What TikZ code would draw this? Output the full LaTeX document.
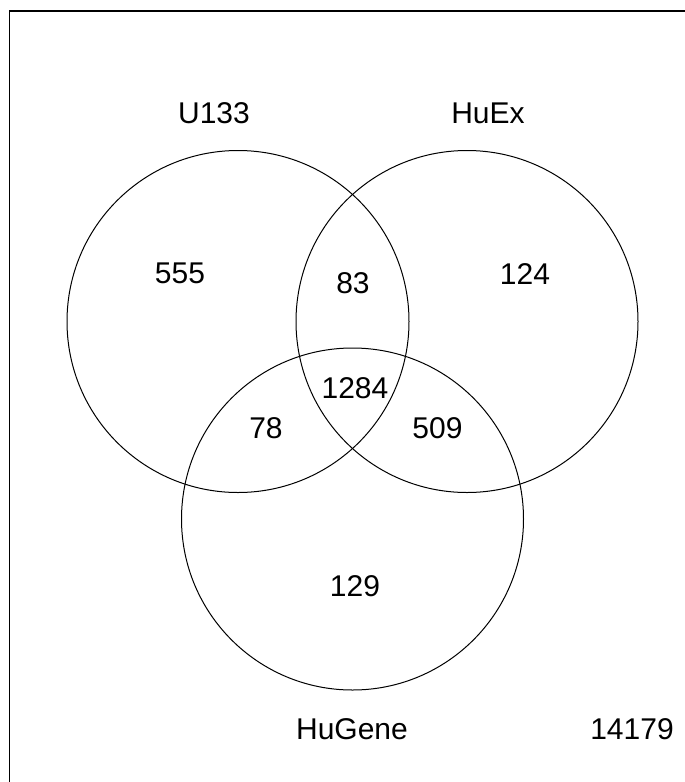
\documentclass[tikz,border=0pt]{standalone}
\usepackage{fontspec}
\setmainfont{Liberation Sans}
\begin{document}
\begin{tikzpicture}[x=1pt,y=-1pt,
	set/.style={draw, circle, line width=1pt, minimum size=342pt, inner sep=0pt},
	lbl/.style={font=\fontsize{30}{36}\selectfont, inner sep=0pt}]
	\useasboundingbox (0,0) rectangle (685,782);
	\draw[line width=1.6pt] (9.5,782) |- (685,11);
	
	% the three sets
	\node[set] (u133) at (238,321.5) {};
	\node[set] (huex) at (467,321.5) {};
	\node[set] (hugene) at (352.5,519) {};
	
	% set names
	\node[lbl] (nameU) at (214,113) {U133};
	\node[lbl] (nameE) at (488,113) {HuEx};
	\node[lbl] (nameG) at (352,729) {HuGene};
	\node[lbl] (rest) at (632,729) {14179};
	
	% counts
	\node[lbl] (onlyU) at (180,273) {555};
	\node[lbl] (onlyE) at (525,274) {124};
	\node[lbl] (onlyG) at (355,586) {129};
	\node[lbl] (UE) at (353,283.5) {83};
	\node[lbl] (UG) at (266,428) {78};
	\node[lbl] (EG) at (437.5,428) {509};
	\node[lbl] (all) at (355,388) {1284};
\end{tikzpicture}
\end{document}
